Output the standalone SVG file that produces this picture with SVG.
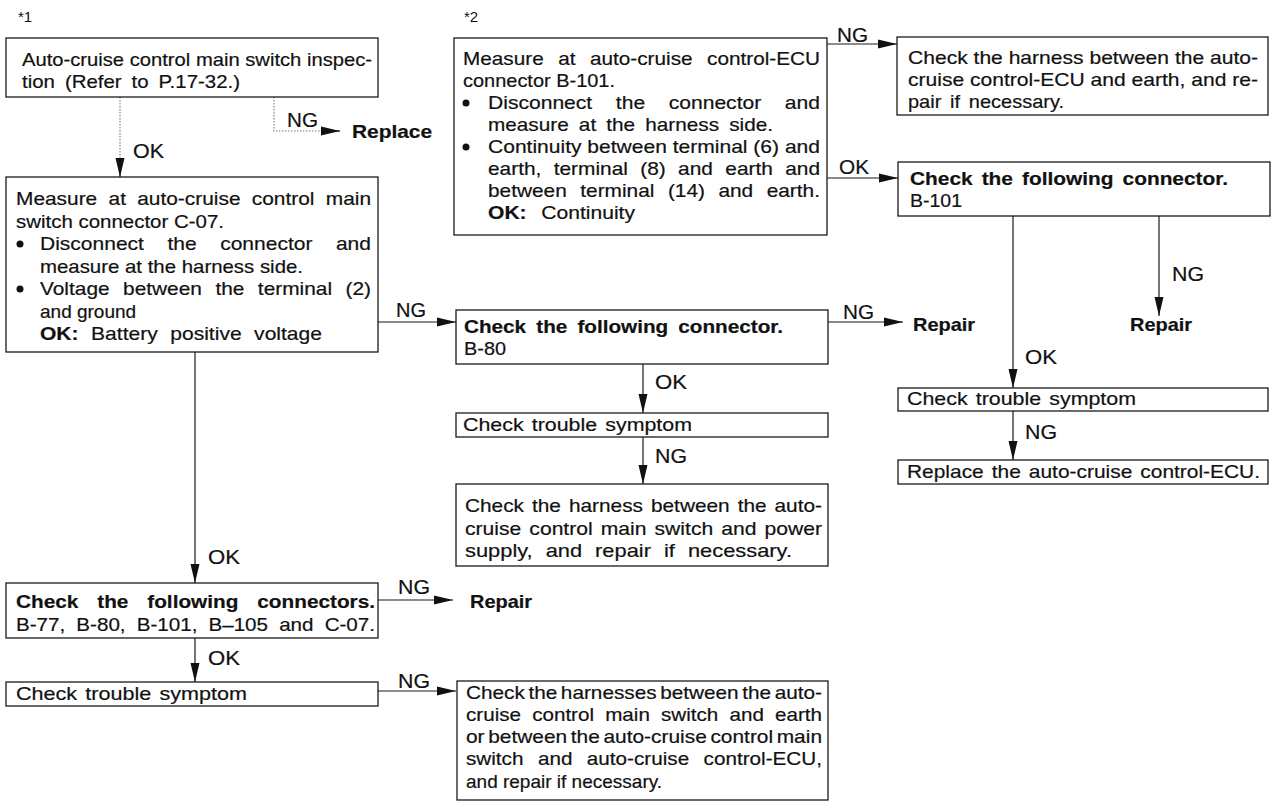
<svg xmlns="http://www.w3.org/2000/svg" width="1272" height="804" viewBox="0 0 1272 804">
  <style>
    .box { fill: #ffffff; stroke: #1a1a1a; stroke-width: 1.3; }
    .t { font-family: "Liberation Sans", Arial, sans-serif; font-size: 19px; fill: #111111; stroke: #111111; stroke-width: 0.2; }
    .b { font-weight: bold; }
    .lbl { font-family: "Liberation Sans", Arial, sans-serif; font-size: 20px; fill: #111111; stroke: #111111; stroke-width: 0.2; }
    .mark { font-family: "Liberation Sans", Arial, sans-serif; font-size: 15px; fill: #111111; }
    .wire { fill: none; stroke: #1a1a1a; stroke-width: 1.2; }
    .faint { fill: none; stroke: #777777; stroke-width: 1.1; stroke-dasharray: 1.5 1.5; }
    .dot { fill: #111111; }
  </style>
  <defs>
    <marker id="ah" markerUnits="userSpaceOnUse" markerWidth="20" markerHeight="10" refX="19" refY="5" orient="auto">
      <path d="M0,0.5 L19,5 L0,9.5 z" fill="#111111"/>
    </marker>
  </defs>

  <rect x="0" y="0" width="1272" height="804" fill="#ffffff"/>

  <!-- section markers -->
  <text class="mark" x="18" y="22">*1</text>
  <text class="mark" x="464" y="22">*2</text>

  <!-- connectors -->
  <g id="connectors">
    <path class="faint" d="M120 97 V175"/>
    <path class="wire" d="M120 160 V177" marker-end="url(#ah)"/>
    <path class="faint" d="M274 97 V131 H325"/>
    <path class="wire" d="M322 131 H340" marker-end="url(#ah)"/>
    <path class="wire" d="M378 322 H456" marker-end="url(#ah)"/>
    <path class="wire" d="M195 352 V583" marker-end="url(#ah)"/>
    <path class="wire" d="M378 600 H453" marker-end="url(#ah)"/>
    <path class="wire" d="M195 638 V682" marker-end="url(#ah)"/>
    <path class="wire" d="M378 691 H456" marker-end="url(#ah)"/>
    <path class="wire" d="M643 364 V413" marker-end="url(#ah)"/>
    <path class="wire" d="M643 437 V484" marker-end="url(#ah)"/>
    <path class="wire" d="M828 322 H903" marker-end="url(#ah)"/>
    <path class="wire" d="M827 44 H897" marker-end="url(#ah)"/>
    <path class="wire" d="M827 178 H898" marker-end="url(#ah)"/>
    <path class="wire" d="M1159 216 V316" marker-end="url(#ah)"/>
    <path class="wire" d="M1013 216 V388" marker-end="url(#ah)"/>
    <path class="wire" d="M1013 411 V460" marker-end="url(#ah)"/>

    <text class="lbl" x="133" y="158" textLength="31" lengthAdjust="spacingAndGlyphs">OK</text>
    <text class="lbl" x="287" y="127" textLength="31" lengthAdjust="spacingAndGlyphs">NG</text>
    <text class="lbl" x="396" y="317" textLength="30" lengthAdjust="spacingAndGlyphs">NG</text>
    <text class="lbl" x="208" y="564" textLength="32" lengthAdjust="spacingAndGlyphs">OK</text>
    <text class="lbl" x="398" y="594" textLength="32" lengthAdjust="spacingAndGlyphs">NG</text>
    <text class="lbl" x="208" y="665" textLength="32" lengthAdjust="spacingAndGlyphs">OK</text>
    <text class="lbl" x="398" y="688" textLength="32" lengthAdjust="spacingAndGlyphs">NG</text>
    <text class="lbl" x="655" y="389" textLength="32" lengthAdjust="spacingAndGlyphs">OK</text>
    <text class="lbl" x="655" y="463" textLength="32" lengthAdjust="spacingAndGlyphs">NG</text>
    <text class="lbl" x="843" y="319" textLength="31" lengthAdjust="spacingAndGlyphs">NG</text>
    <text class="lbl" x="837" y="42" textLength="31" lengthAdjust="spacingAndGlyphs">NG</text>
    <text class="lbl" x="839" y="174" textLength="30" lengthAdjust="spacingAndGlyphs">OK</text>
    <text class="lbl" x="1172" y="281" textLength="32" lengthAdjust="spacingAndGlyphs">NG</text>
    <text class="lbl" x="1025" y="364" textLength="32" lengthAdjust="spacingAndGlyphs">OK</text>
    <text class="lbl" x="1025" y="439" textLength="32" lengthAdjust="spacingAndGlyphs">NG</text>
  </g>

  <!-- terminal actions -->
  <g id="replace-switch">
    <text class="t b" x="352" y="138" textLength="80" lengthAdjust="spacingAndGlyphs">Replace</text>
  </g>
  <g id="repair-b80">
    <text class="t b" x="913" y="331" textLength="62" lengthAdjust="spacingAndGlyphs">Repair</text>
  </g>
  <g id="repair-b101">
    <text class="t b" x="1130" y="331" textLength="62" lengthAdjust="spacingAndGlyphs">Repair</text>
  </g>
  <g id="repair-connectors">
    <text class="t b" x="470" y="608" textLength="62" lengthAdjust="spacingAndGlyphs">Repair</text>
  </g>

  <!-- main switch inspection -->
  <g id="switch-inspection">
    <rect class="box" x="6" y="38" width="372" height="59"/>
    <text class="t" x="22" y="66" textLength="350" lengthAdjust="spacingAndGlyphs">Auto-cruise control main switch inspec-</text>
    <text class="t" x="22" y="88" textLength="218" lengthAdjust="spacingAndGlyphs" style="word-spacing:4px">tion (Refer to P.17-32.)</text>
  </g>

  <!-- measure at main switch connector C-07 -->
  <g id="measure-c07">
    <rect class="box" x="6" y="177" width="372" height="175"/>
    <text class="t" x="16" y="205" textLength="355" lengthAdjust="spacingAndGlyphs" style="word-spacing:5px">Measure at auto-cruise control main</text>
    <text class="t" x="16" y="228" textLength="208" lengthAdjust="spacingAndGlyphs">switch connector C-07.</text>
    <circle class="dot" cx="20" cy="244" r="3.5"/>
    <text class="t" x="40" y="250" textLength="331" lengthAdjust="spacingAndGlyphs" style="word-spacing:16px">Disconnect the connector and</text>
    <text class="t" x="40" y="273" textLength="263" lengthAdjust="spacingAndGlyphs">measure at the harness side.</text>
    <circle class="dot" cx="20" cy="289" r="3.5"/>
    <text class="t" x="40" y="295" textLength="331" lengthAdjust="spacingAndGlyphs" style="word-spacing:7px">Voltage between the terminal (2)</text>
    <text class="t" x="40" y="318">and ground</text>
    <text class="t" x="40" y="340" textLength="282" lengthAdjust="spacingAndGlyphs" style="word-spacing:6px"><tspan class="b">OK:</tspan> Battery positive voltage</text>
  </g>

  <!-- check connector B-80 -->
  <g id="check-b80">
    <rect class="box" x="456" y="310" width="372" height="54"/>
    <text class="t b" x="464" y="333" textLength="319" lengthAdjust="spacingAndGlyphs" style="word-spacing:4px">Check the following connector.</text>
    <text class="t" x="464" y="355" textLength="42" lengthAdjust="spacingAndGlyphs">B-80</text>
  </g>

  <g id="symptom-b80">
    <rect class="box" x="456" y="413" width="372" height="24"/>
    <text class="t" x="463" y="431" textLength="229" lengthAdjust="spacingAndGlyphs" style="word-spacing:2px">Check trouble symptom</text>
  </g>

  <g id="harness-power">
    <rect class="box" x="456" y="484" width="372" height="82"/>
    <text class="t" x="465" y="512" textLength="357" lengthAdjust="spacingAndGlyphs" style="word-spacing:2px">Check the harness between the auto-</text>
    <text class="t" x="465" y="535" textLength="357" lengthAdjust="spacingAndGlyphs" style="word-spacing:2px">cruise control main switch and power</text>
    <text class="t" x="465" y="557" textLength="327" lengthAdjust="spacingAndGlyphs" style="word-spacing:6px">supply, and repair if necessary.</text>
  </g>

  <!-- check connectors list -->
  <g id="check-connectors">
    <rect class="box" x="6" y="583" width="372" height="55"/>
    <text class="t b" x="16" y="608" textLength="359" lengthAdjust="spacingAndGlyphs" style="word-spacing:12px">Check the following connectors.</text>
    <text class="t" x="16" y="631" textLength="359" lengthAdjust="spacingAndGlyphs" style="word-spacing:5px">B-77, B-80, B-101, B–105 and C-07.</text>
  </g>

  <g id="symptom-connectors">
    <rect class="box" x="6" y="682" width="372" height="24"/>
    <text class="t" x="16" y="700" textLength="231" lengthAdjust="spacingAndGlyphs" style="word-spacing:2px">Check trouble symptom</text>
  </g>

  <g id="harness-earth-ecu">
    <rect class="box" x="457" y="681" width="371" height="119"/>
    <text class="t" x="466" y="699" textLength="356" lengthAdjust="spacingAndGlyphs" style="word-spacing:-2px">Check the harnesses between the auto-</text>
    <text class="t" x="466" y="721" textLength="356" lengthAdjust="spacingAndGlyphs" style="word-spacing:5px">cruise control main switch and earth</text>
    <text class="t" x="466" y="743" textLength="356" lengthAdjust="spacingAndGlyphs" style="word-spacing:-2px">or between the auto-cruise control main</text>
    <text class="t" x="466" y="765" textLength="356" lengthAdjust="spacingAndGlyphs" style="word-spacing:8px">switch and auto-cruise control-ECU,</text>
    <text class="t" x="466" y="788">and repair if necessary.</text>
  </g>

  <!-- ECU connector measurement -->
  <g id="measure-b101">
    <rect class="box" x="454" y="38" width="373" height="197"/>
    <text class="t" x="463" y="65" textLength="357" lengthAdjust="spacingAndGlyphs" style="word-spacing:8px">Measure at auto-cruise control-ECU</text>
    <text class="t" x="463" y="87" textLength="152" lengthAdjust="spacingAndGlyphs">connector B-101.</text>
    <circle class="dot" cx="466" cy="103" r="3.5"/>
    <text class="t" x="488" y="109" textLength="332" lengthAdjust="spacingAndGlyphs" style="word-spacing:16px">Disconnect the connector and</text>
    <text class="t" x="488" y="131" textLength="285" lengthAdjust="spacingAndGlyphs" style="word-spacing:4px">measure at the harness side.</text>
    <circle class="dot" cx="466" cy="147" r="3.5"/>
    <text class="t" x="488" y="153" textLength="332" lengthAdjust="spacingAndGlyphs">Continuity between terminal (6) and</text>
    <text class="t" x="488" y="175" textLength="332" lengthAdjust="spacingAndGlyphs" style="word-spacing:6px">earth, terminal (8) and earth and</text>
    <text class="t" x="488" y="197" textLength="332" lengthAdjust="spacingAndGlyphs" style="word-spacing:7px">between terminal (14) and earth.</text>
    <text class="t" x="488" y="219" textLength="147" lengthAdjust="spacingAndGlyphs" style="word-spacing:8px"><tspan class="b">OK:</tspan> Continuity</text>
  </g>

  <g id="harness-ecu-earth">
    <rect class="box" x="897" y="37" width="371" height="78"/>
    <text class="t" x="908" y="64" textLength="350" lengthAdjust="spacingAndGlyphs">Check the harness between the auto-</text>
    <text class="t" x="908" y="86" textLength="350" lengthAdjust="spacingAndGlyphs">cruise control-ECU and earth, and re-</text>
    <text class="t" x="908" y="108" textLength="156" lengthAdjust="spacingAndGlyphs" style="word-spacing:3px">pair if necessary.</text>
  </g>

  <g id="check-b101">
    <rect class="box" x="898" y="162" width="372" height="54"/>
    <text class="t b" x="910" y="185" textLength="318" lengthAdjust="spacingAndGlyphs" style="word-spacing:3px">Check the following connector.</text>
    <text class="t" x="910" y="207" textLength="52" lengthAdjust="spacingAndGlyphs">B-101</text>
  </g>

  <g id="symptom-b101">
    <rect class="box" x="898" y="388" width="370" height="23"/>
    <text class="t" x="907" y="405" textLength="229" lengthAdjust="spacingAndGlyphs" style="word-spacing:2px">Check trouble symptom</text>
  </g>

  <g id="replace-ecu">
    <rect class="box" x="898" y="460" width="370" height="24"/>
    <text class="t" x="907" y="478" textLength="353" lengthAdjust="spacingAndGlyphs" style="word-spacing:2px">Replace the auto-cruise control-ECU.</text>
  </g>
</svg>
